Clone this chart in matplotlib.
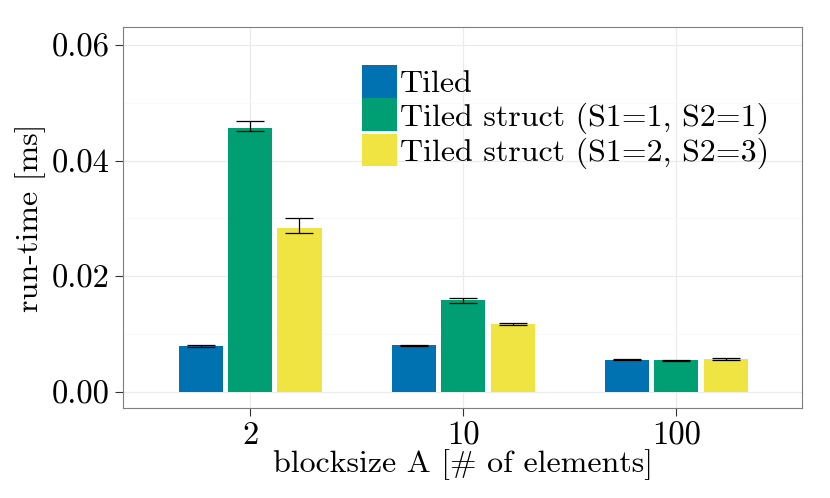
import numpy as np
import matplotlib
matplotlib.use("Agg")
import matplotlib.pyplot as plt
from matplotlib.patches import Patch

plt.rcParams['font.family'] = ['cmr10', 'DejaVu Serif']
plt.rcParams['mathtext.fontset'] = 'cm'
plt.rcParams['axes.formatter.use_mathtext'] = True

# data
blocksizes = ['2', '10', '100']
series = ['Tiled', 'Tiled struct (S1=1, S2=1)', 'Tiled struct (S1=2, S2=3)']
colors = ['#0072B2', '#009E73', '#F0E442']

mean_tiled = [0.0080, 0.0081, 0.0056]
mean_s11 = [0.0456, 0.0159, 0.00545]
mean_s23 = [0.0284, 0.0118, 0.0057]

low_tiled = [0.0078, 0.0080, 0.0055]
high_tiled = [0.0082, 0.0082, 0.0057]
low_s11 = [0.0451, 0.0153, 0.0053]
high_s11 = [0.0468, 0.0163, 0.0055]
low_s23 = [0.0275, 0.0116, 0.0056]
high_s23 = [0.0301, 0.0120, 0.0058]

yticks = [0.00, 0.02, 0.04, 0.06]
ytick_labels = ['0.00', '0.02', '0.04', '0.06']

means = [mean_tiled, mean_s11, mean_s23]
lows = [low_tiled, low_s11, low_s23]
highs = [high_tiled, high_s11, high_s23]

fig = plt.figure(figsize=(8.3, 4.98), dpi=100)
ax = fig.add_axes([123 / 830, 90 / 498, 679 / 830, 381 / 498])

x = np.arange(len(blocksizes))
step = 0.232
width = 0.207

for i, name in enumerate(series):
    xi = x + (i - 1) * step
    m = np.array(means[i])
    lo = m - np.array(lows[i])
    hi = np.array(highs[i]) - m
    ax.bar(xi, m, width=width, color=colors[i], zorder=2)
    ax.errorbar(xi, m, yerr=[lo, hi], fmt='none', ecolor='black',
                elinewidth=0.9, capsize=10, capthick=0.9, zorder=3)

ax.set_xlim(-0.596, 2.59)
ax.set_ylim(-0.00277, 0.0631)

ax.set_xticks(x)
ax.set_xticklabels(blocksizes)
ax.set_yticks(yticks)
ax.set_yticklabels(ytick_labels)
ax.set_yticks([0.01, 0.03, 0.05], minor=True)

ax.grid(which='major', color='#EBEBEB', linewidth=0.9, zorder=0)
ax.grid(which='minor', axis='y', color='#F7F7F7', linewidth=0.6, zorder=0)
ax.set_axisbelow(True)

for s in ax.spines.values():
    s.set_color('#7F7F7F')
    s.set_linewidth(0.8)

ax.tick_params(axis='both', which='major', direction='out', length=6,
               width=0.8, color='#333333', labelsize=23.5, labelcolor='black')
ax.tick_params(axis='both', which='minor', length=0)

ax.set_xlabel('blocksize A [# of elements]', fontsize=23, labelpad=-1)
ax.set_ylabel('run-time [ms]', fontsize=23, labelpad=4)

handles = [Patch(facecolor=c, edgecolor='none') for c in colors]
ax.legend(handles, series, loc='upper left', bbox_to_anchor=(0.352, 0.90),
          frameon=False, fontsize=23, handlelength=1.08, handleheight=1.2,
          handletextpad=0.12, labelspacing=0.0, borderpad=0, borderaxespad=0)

fig.savefig('out.png', dpi=100)
